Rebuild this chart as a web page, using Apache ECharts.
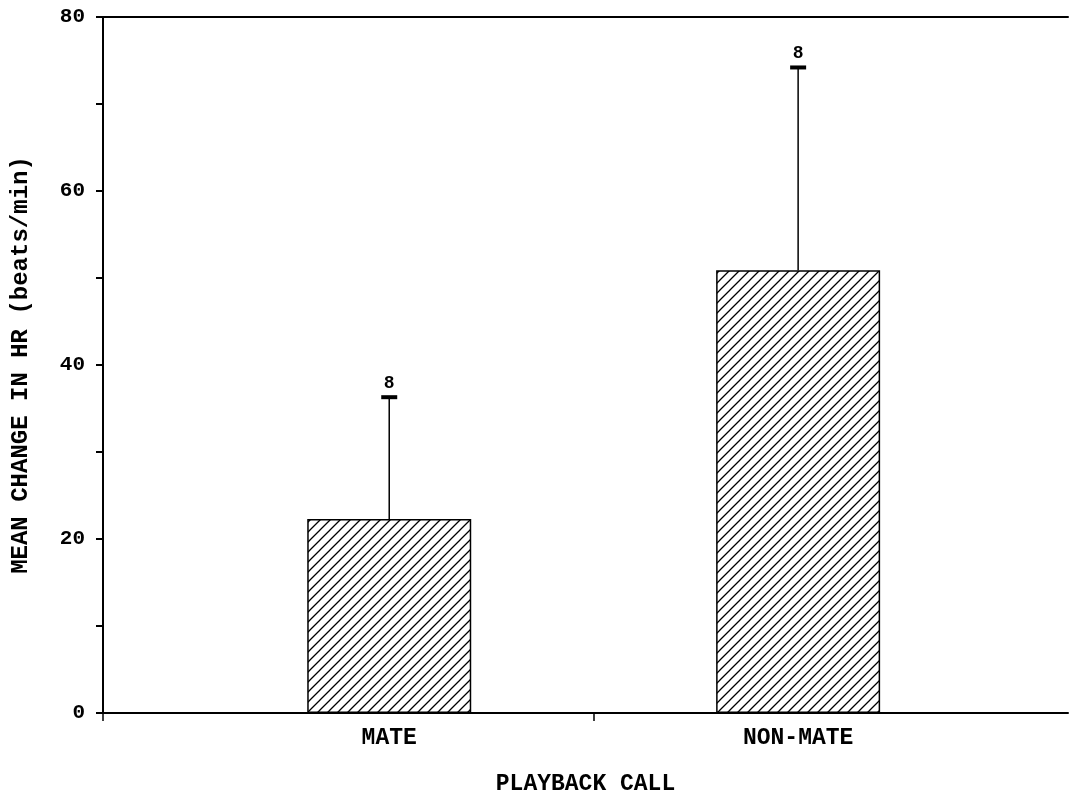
<!DOCTYPE html>
<html>
<head>
<meta charset="utf-8">
<script src="https://cdn.jsdelivr.net/npm/echarts@6/dist/echarts.min.js"></script>
<style>html,body{margin:0;padding:0;background:#fff;overflow:hidden;}#c{width:1076px;height:801px;}</style>
</head>
<body>
<div id="c"></div>
<script>
const categories = ['MATE', 'NON-MATE'];
const categoryPositions = [1, 2];
const meanValues = [22.3, 50.9];
const errorTops = [36.3, 74.2];
const nLabels = ['8', '8'];
const yTicks = [0, 20, 40, 60, 80];

const FONT = '"Liberation Mono", "DejaVu Sans Mono", monospace';

function hatch() {
  const s = 10;
  const c = document.createElement('canvas');
  c.width = s; c.height = s;
  const g = c.getContext('2d');
  g.fillStyle = '#fff';
  g.fillRect(0, 0, s, s);
  g.strokeStyle = '#000';
  g.lineWidth = 1.3;
  g.beginPath();
  g.moveTo(-2, s + 2); g.lineTo(s + 2, -2);
  g.moveTo(-2, 2); g.lineTo(2, -2);
  g.moveTo(s - 2, s + 2); g.lineTo(s + 2, s - 2);
  g.stroke();
  return c;
}

const chart = echarts.init(document.getElementById('c'));
const barData = categoryPositions.map((x, i) => [x, meanValues[i]]);
const errData = categoryPositions.map((x, i) => [x, meanValues[i], errorTops[i]]);

chart.setOption({
  animation: false,
  backgroundColor: '#fff',
  grid: { left: 103, width: 965, top: 17, height: 702, containLabel: false },
  xAxis: [{
    type: 'value', min: 0.3, max: 2.66,
    axisLine: { show: true, onZero: false, lineStyle: { color: '#000', width: 2 } },
    axisTick: { show: true, customValues: [0.3, 1.5], length: 8, lineStyle: { color: '#000', width: 1.5 } },
    axisLabel: {
      customValues: categoryPositions,
      formatter: v => categories[Math.round(v) - 1],
      color: '#000', fontFamily: FONT, fontWeight: 'bold', fontSize: 23, margin: 14
    },
    splitLine: { show: false },
    name: 'PLAYBACK CALL', nameLocation: 'middle', nameGap: 60,
    nameTextStyle: { color: '#000', fontFamily: FONT, fontWeight: 'bold', fontSize: 23 }
  }, {
    type: 'value', min: 0.3, max: 2.66, position: 'top',
    axisLine: { show: true, onZero: false, lineStyle: { color: '#000', width: 2 } },
    axisTick: { show: false }, axisLabel: { show: false }, splitLine: { show: false }
  }],
  yAxis: {
    type: 'value', min: 0, max: 80, interval: 20,
    axisLine: { show: true, lineStyle: { color: '#000', width: 2 } },
    axisTick: { show: true, length: 7, lineStyle: { color: '#000', width: 2 } },
    minorTick: { show: true, splitNumber: 2, length: 7, lineStyle: { color: '#000', width: 2 } },
    axisLabel: {
      formatter: v => (yTicks.indexOf(v) >= 0 ? String(v) : ''),
      color: '#000', fontFamily: FONT, fontWeight: 'bold', fontSize: 21, margin: 18
    },
    splitLine: { show: false },
    name: 'MEAN CHANGE IN HR (beats/min)', nameLocation: 'middle', nameGap: 70,
    nameTextStyle: { color: '#000', fontFamily: FONT, fontWeight: 'bold', fontSize: 24 }
  },
  series: [{
    type: 'bar',
    data: barData,
    barWidth: 164,
    itemStyle: { color: { image: hatch(), repeat: 'repeat' }, borderColor: '#000', borderWidth: 1.5 },
    z: 2
  }, {
    type: 'custom',
    data: errData,
    z: 3,
    renderItem: function (params, api) {
      const x = api.value(0), lo = api.value(1), hi = api.value(2);
      const p0 = api.coord([x, lo]);
      const p1 = api.coord([x, hi]);
      return {
        type: 'group',
        children: [
          { type: 'line', shape: { x1: p0[0], y1: p0[1], x2: p1[0], y2: p1[1] }, style: { stroke: '#000', lineWidth: 1.5 } },
          { type: 'line', shape: { x1: p1[0] - 8, y1: p1[1], x2: p1[0] + 8, y2: p1[1] }, style: { stroke: '#000', lineWidth: 4 } },
          { type: 'text', x: p1[0], y: p1[1] - 5, style: { text: nLabels[params.dataIndex], fill: '#000', font: 'bold 18px ' + FONT, textAlign: 'center', textVerticalAlign: 'bottom' } }
        ]
      };
    }
  }]
});
</script>
</body>
</html>
